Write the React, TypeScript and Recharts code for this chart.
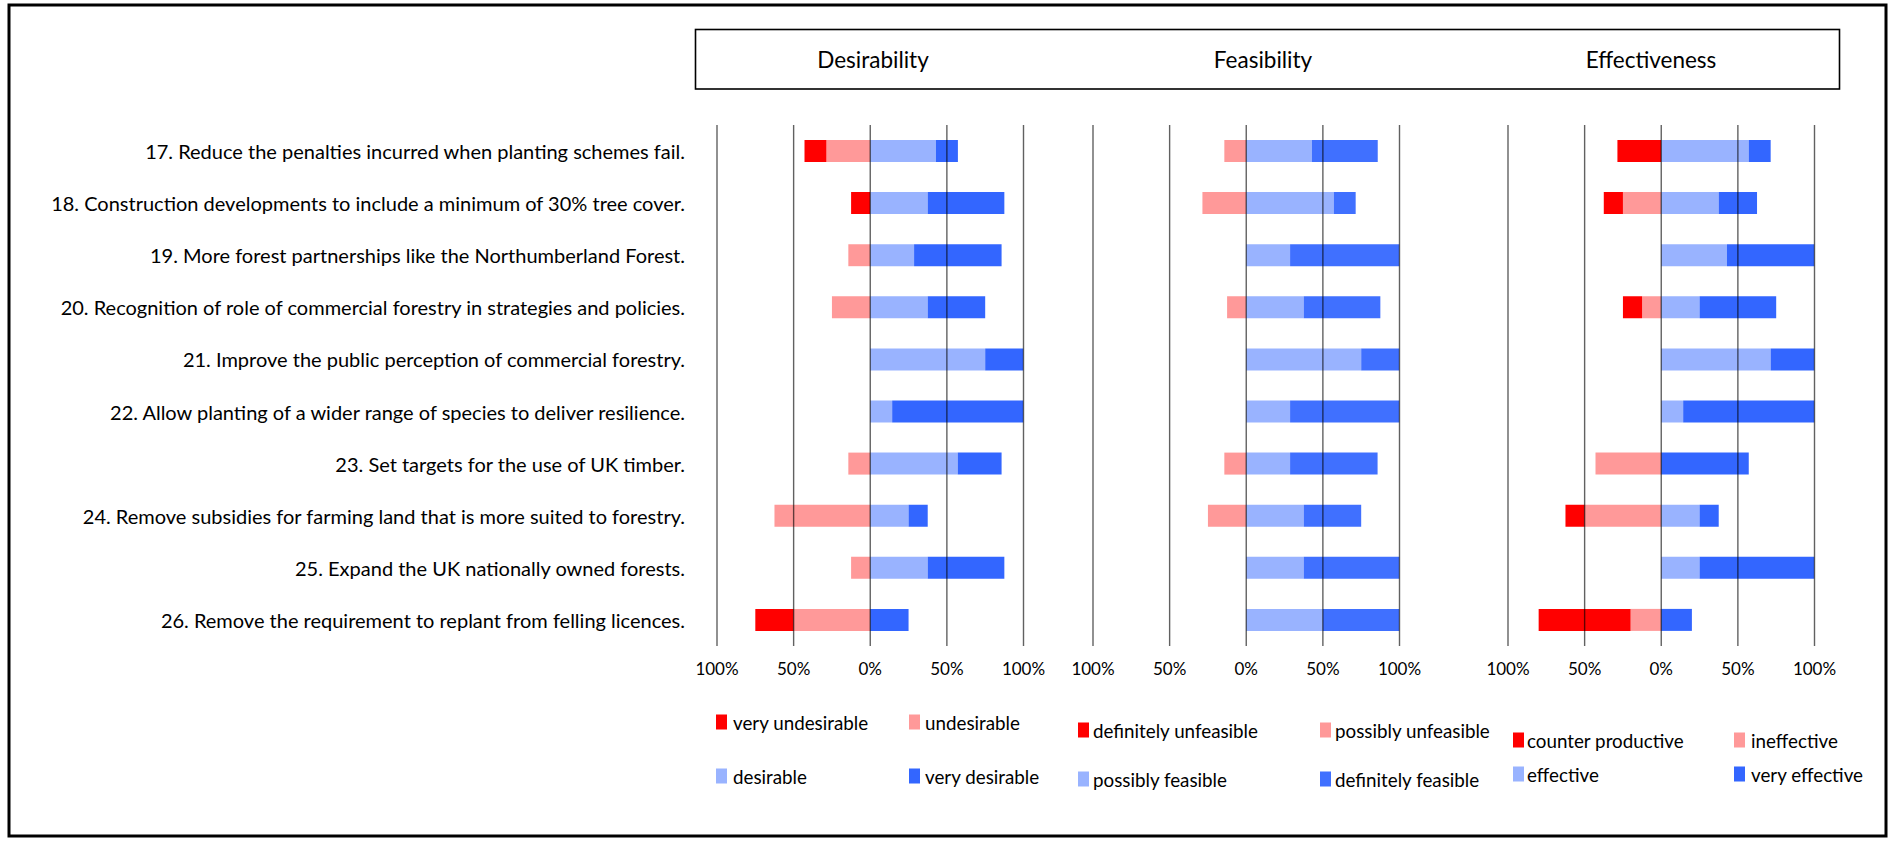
import React from 'react';
import { BarChart, Bar, XAxis, YAxis, ReferenceLine } from 'recharts';

const categories = [
  '17. Reduce the penalties incurred when planting schemes fail.',
  '18. Construction developments to include a minimum of 30% tree cover.',
  '19. More forest partnerships like the Northumberland Forest.',
  '20. Recognition of role of commercial forestry in strategies and policies.',
  '21. Improve the public perception of commercial forestry.',
  '22. Allow planting of a wider range of species to deliver resilience.',
  '23. Set targets for the use of UK timber.',
  '24. Remove subsidies for farming land that is more suited to forestry.',
  '25. Expand the UK nationally owned forests.',
  '26. Remove the requirement to replant from felling licences.',
];

// Desirability (% of respondents)
const veryUndesirable = [14.3, 12.5, 0, 0, 0, 0, 0, 0, 0, 25];
const undesirable = [28.6, 0, 14.3, 25, 0, 0, 14.3, 62.5, 12.5, 50];
const desirable = [42.9, 37.5, 28.6, 37.5, 75, 14.3, 57.1, 25, 37.5, 0];
const veryDesirable = [14.3, 50, 57.1, 37.5, 25, 85.7, 28.6, 12.5, 50, 25];

// Feasibility
const definitelyUnfeasible = [0, 0, 0, 0, 0, 0, 0, 0, 0, 0];
const possiblyUnfeasible = [14.3, 28.6, 0, 12.5, 0, 0, 14.3, 25, 0, 0];
const possiblyFeasible = [42.9, 57.1, 28.6, 37.5, 75, 28.6, 28.6, 37.5, 37.5, 50];
const definitelyFeasible = [42.9, 14.3, 71.4, 50, 25, 71.4, 57.1, 37.5, 62.5, 50];

// Effectiveness
const counterProductive = [28.6, 12.5, 0, 12.5, 0, 0, 0, 12.5, 0, 60];
const ineffective = [0, 25, 0, 12.5, 0, 0, 42.9, 50, 0, 20];
const effective = [57.1, 37.5, 42.9, 25, 71.4, 14.3, 0, 25, 25, 0];
const veryEffective = [14.3, 25, 57.1, 50, 28.6, 85.7, 57.1, 12.5, 75, 20];

const panelTitles = ['Desirability', 'Feasibility', 'Effectiveness'];
const xTicks = [-100, -50, 0, 50, 100];

const desLegend = ['very undesirable', 'undesirable', 'desirable', 'very desirable'];
const feaLegend = ['definitely unfeasible', 'possibly unfeasible', 'possibly feasible', 'definitely feasible'];
const effLegend = ['counter productive', 'ineffective', 'effective', 'very effective'];

const RED = '#FF0000';
const PINK = '#FF9999';
const LIGHT = '#99B3FF';
const BLUE = '#3366FF';
const BLUE_F = '#4070FF';

const FONT = "Lato, 'Open Sans', sans-serif";

const build = (outer: number[], inner: number[], pos1: number[], pos2: number[]) =>
  categories.map((name, i) => ({
    name,
    n1: -inner[i],
    n2: -outer[i],
    p1: pos1[i],
    p2: pos2[i],
  }));

const desData = build(veryUndesirable, undesirable, desirable, veryDesirable);
const feaData = build(definitelyUnfeasible, possiblyUnfeasible, possiblyFeasible, definitelyFeasible);
const effData = build(counterProductive, ineffective, effective, veryEffective);

const PLOT_W = 306.5;
const CHART_TOP = 115;
const CHART_H = 576;
const SIDE = 35;

const LabelTick = (props: any) => {
  const { x, y, payload } = props;
  return (
    <text x={x} y={y} textAnchor="end" dominantBaseline="central" fontFamily={FONT} fontSize={20} fill="#000">
      {payload.value}
    </text>
  );
};

function Panel({ data, plotLeft, labels, colors }: { data: any[]; plotLeft: number; labels: boolean; colors: string[] }) {
  const yW = labels ? plotLeft : 0;
  const left = labels ? 0 : plotLeft - SIDE;
  const width = labels ? plotLeft + PLOT_W + SIDE : PLOT_W + 2 * SIDE;
  return (
    <div style={{ position: 'absolute', left, top: CHART_TOP, width, height: CHART_H }}>
      <BarChart
        width={width}
        height={CHART_H}
        data={data}
        layout="vertical"
        stackOffset="sign"
        barSize={22}
        margin={{ top: 10, right: SIDE, bottom: 5, left: labels ? 0 : SIDE }}
      >
        <XAxis
          type="number"
          domain={[-100, 100]}
          ticks={xTicks}
          allowDataOverflow
          axisLine={false}
          tickLine={false}
          tickSize={0}
          tickMargin={17}
          height={40}
          interval={0}
          tickFormatter={(v: number) => `${Math.abs(v)}%`}
          tick={{ fontFamily: FONT, fontSize: 17, fill: '#000' }}
        />
        <YAxis
          type="category"
          dataKey="name"
          width={yW}
          hide={!labels}
          axisLine={false}
          tickLine={false}
          tickSize={0}
          tickMargin={32}
          interval={0}
          tick={<LabelTick />}
        />
        <Bar dataKey="n1" stackId="s" fill={colors[1]} isAnimationActive={false} />
        <Bar dataKey="n2" stackId="s" fill={colors[0]} isAnimationActive={false} />
        <Bar dataKey="p1" stackId="s" fill={colors[2]} isAnimationActive={false} />
        <Bar dataKey="p2" stackId="s" fill={colors[3]} isAnimationActive={false} />
        {xTicks.map((t) => (
          <ReferenceLine key={t} x={t} stroke="#000" strokeOpacity={0.62} strokeWidth={1.4} ifOverflow="extendDomain" />
        ))}
      </BarChart>
    </div>
  );
}

type LegendSpec = { names: string[]; colors: string[]; x1: number; t1: number; x2: number; t2: number; y1: number; y2: number };

const legends: LegendSpec[] = [
  { names: desLegend, colors: [RED, PINK, LIGHT, BLUE], x1: 716, t1: 733, x2: 909, t2: 925, y1: 722, y2: 776 },
  { names: feaLegend, colors: [RED, PINK, LIGHT, BLUE_F], x1: 1078, t1: 1093, x2: 1320, t2: 1335, y1: 730, y2: 779 },
  { names: effLegend, colors: [RED, PINK, LIGHT, BLUE], x1: 1513, t1: 1527, x2: 1734, t2: 1751, y1: 740, y2: 774 },
];

const titleCenters = [873, 1263, 1651];

export default function App() {
  return (
    <div style={{ position: 'absolute', left: 0, top: 0, width: 1893, height: 841, background: '#fff', overflow: 'hidden' }}>
      <svg width={1893} height={841} style={{ position: 'absolute', left: 0, top: 0 }}>
        <rect x={9} y={5} width={1877} height={831} fill="#fff" stroke="#000" strokeWidth={3} />
        <rect x={695.5} y={29.5} width={1144} height={59.5} fill="#fff" stroke="#000" strokeWidth={1.6} />
        {panelTitles.map((t, i) => (
          <text key={t} x={titleCenters[i]} y={59} textAnchor="middle" dominantBaseline="central" fontFamily={FONT} fontSize={22.5} fill="#000">
            {t}
          </text>
        ))}
        {legends.map((lg, li) =>
          lg.names.map((name, k) => {
            const sx = k % 2 === 0 ? lg.x1 : lg.x2;
            const tx = k % 2 === 0 ? lg.t1 : lg.t2;
            const cy = k < 2 ? lg.y1 : lg.y2;
            return (
              <g key={`${li}-${k}`}>
                <rect x={sx} y={cy - 7.5} width={11} height={15} fill={lg.colors[k]} />
                <text x={tx} y={cy} dominantBaseline="central" fontFamily={FONT} fontSize={18.8} fill="#000">
                  {name}
                </text>
              </g>
            );
          })
        )}
      </svg>
      <Panel data={desData} plotLeft={717} labels colors={[RED, PINK, LIGHT, BLUE]} />
      <Panel data={feaData} plotLeft={1093.3} labels={false} colors={[RED, PINK, LIGHT, BLUE_F]} />
      <Panel data={effData} plotLeft={1508.3} labels={false} colors={[RED, PINK, LIGHT, BLUE]} />
    </div>
  );
}
